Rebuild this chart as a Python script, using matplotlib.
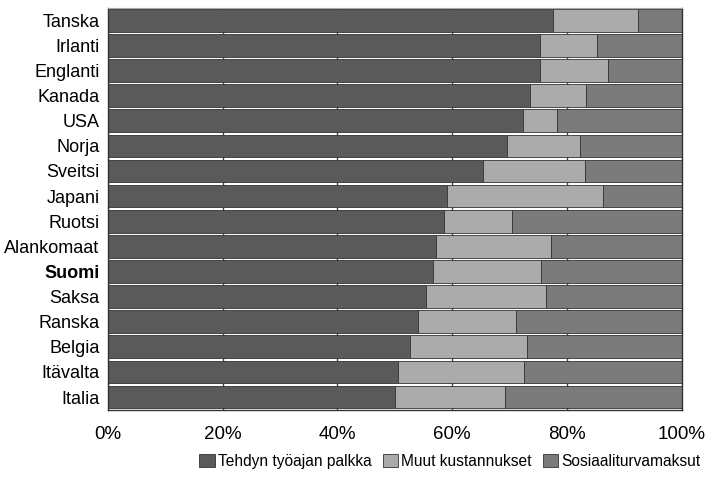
import matplotlib
matplotlib.use('Agg')
import matplotlib.pyplot as plt
from matplotlib.ticker import PercentFormatter

plt.rcParams['font.family'] = ['Liberation Sans', 'DejaVu Sans']

#countries from top to bottom
countries = ['Tanska', 'Irlanti', 'Englanti', 'Kanada', 'USA', 'Norja', 'Sveitsi', 'Japani',
             'Ruotsi', 'Alankomaat', 'Suomi', 'Saksa', 'Ranska', 'Belgia', 'Itävalta', 'Italia']
#cumulative end points (%)
palkka = [77.6, 75.3, 75.3, 73.6, 72.3, 69.6, 65.3, 59.1, 58.6, 57.1, 56.6, 55.5, 54.1, 52.6, 50.5, 50.0]
muut_end = [92.3, 85.2, 87.2, 83.3, 78.2, 82.3, 83.2, 86.3, 70.5, 77.2, 75.4, 76.4, 71.2, 73.0, 72.5, 69.2]

muut = [m - p for m, p in zip(muut_end, palkka)]
sosiaali = [100 - m for m in muut_end]
series_names = ['Tehdyn työajan palkka', 'Muut kustannukset', 'Sosiaaliturvamaksut']
colors = ['#5a5a5a', '#ababab', '#7b7b7b']

fig = plt.figure(figsize=(7.05, 4.83), dpi=100)
ax = fig.add_axes([0.153, 0.152, 0.814, 0.832])

ypos = list(range(len(countries)))[::-1]
left = [0] * len(countries)
for vals, name, col in zip([palkka, muut, sosiaali], series_names, colors):
    ax.barh(ypos, vals, left=left, height=0.9, color=col, edgecolor='#333333',
            linewidth=0.6, label=name, zorder=2)
    left = [l + v for l, v in zip(left, vals)]

ax.set_xlim(0, 100)
ax.set_ylim(-0.5, len(countries) - 0.5)
ax.set_xticks([0, 20, 40, 60, 80, 100])
ax.xaxis.set_major_formatter(PercentFormatter(decimals=0))
ax.set_yticks(ypos)
ax.set_yticklabels(countries)
for lab in ax.get_yticklabels():
    if lab.get_text() == 'Suomi':
        lab.set_fontweight('bold')
ax.tick_params(axis='y', length=0, labelsize=13, pad=6)
ax.tick_params(axis='x', length=0, labelsize=13.5, pad=12)

#dark grid lines show through the white gaps
ax.grid(axis='x', color='#444444', linewidth=1.0, zorder=0)
ax.set_axisbelow(True)
for s in ['left', 'right', 'bottom']:
    ax.spines[s].set_color('#333333')
    ax.spines[s].set_linewidth(1.0)
ax.spines['top'].set_color('#aaaaaa')

fig.legend(loc='lower center', bbox_to_anchor=(0.638, 0.0), ncol=3, frameon=False,
           fontsize=11.2, handlelength=1.0, handleheight=0.9, handletextpad=0.2,
           columnspacing=0.7)

fig.savefig('out.png', dpi=100)
